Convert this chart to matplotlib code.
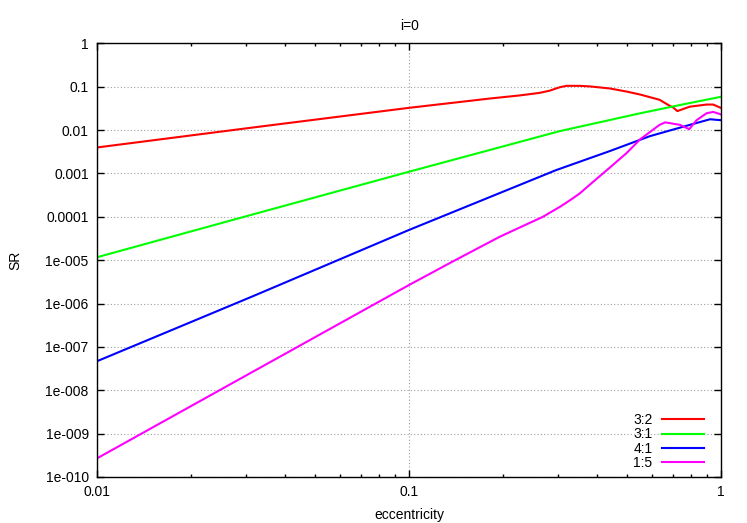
import numpy as np
import matplotlib
matplotlib.use("Agg")
import matplotlib.pyplot as plt
from matplotlib.ticker import FixedLocator, FixedFormatter, LogLocator, NullFormatter

plt.rcParams['font.family'] = ['Liberation Sans', 'DejaVu Sans']
plt.rcParams['font.size'] = 10

# values (eccentricity, SR)
e_32 = [0.01, 0.0316, 0.1, 0.182, 0.226, 0.262, 0.282, 0.304, 0.319, 0.352, 0.379,
        0.44, 0.497, 0.55, 0.634, 0.684, 0.702, 0.723, 0.792, 0.897, 0.942, 0.991, 1.0]
sr_32 = [0.00398, 0.0115, 0.0327, 0.0537, 0.0631, 0.0724, 0.0813, 0.0977, 0.105, 0.105, 0.102,
         0.0912, 0.0776, 0.0661, 0.0501, 0.0363, 0.0331, 0.0275, 0.0347, 0.0389, 0.0389, 0.0331, 0.0324]

e_31 = [0.01, 0.0316, 0.1, 0.304, 0.55, 0.75, 1.0]
sr_31 = [1.17e-5, 1.14e-4, 1.10e-3, 9.5e-3, 0.0245, 0.0389, 0.0589]

e_41 = [0.01, 0.0316, 0.1, 0.296, 0.44, 0.59, 0.684, 0.792, 0.92, 0.991, 1.0]
sr_41 = [4.68e-8, 1.48e-6, 5.0e-5, 1.20e-3, 3.3e-3, 7.24e-3, 9.8e-3, 0.0132, 0.0178, 0.0170, 0.0170]

e_15 = [0.01, 0.0316, 0.1, 0.135, 0.195, 0.268, 0.304, 0.33, 0.352, 0.386, 0.44, 0.497, 0.55,
        0.634, 0.661, 0.738, 0.789, 0.834, 0.897, 0.942, 0.991, 1.0]
sr_15 = [2.69e-10, 2.69e-8, 2.69e-6, 8.6e-6, 3.47e-5, 1e-4, 1.70e-4, 2.5e-4, 3.47e-4, 6.17e-4,
         1.38e-3, 2.95e-3, 6.17e-3, 0.0132, 0.0151, 0.0132, 0.0105, 0.0170, 0.0245, 0.0263,
         0.0234, 0.0229]

y_ticks = [1e-10, 1e-9, 1e-8, 1e-7, 1e-6, 1e-5, 1e-4, 1e-3, 1e-2, 1e-1, 1]
y_labels = ['1e-010', '1e-009', '1e-008', '1e-007', '1e-006', '1e-005',
            '0.0001', '0.001', '0.01', '0.1', '1']
x_ticks = [0.01, 0.1, 1]
x_labels = ['0.01', '0.1', '1']

fig = plt.figure(figsize=(7.47, 5.23), dpi=100)
ax = fig.add_axes([0.1299, 0.088, 0.8357, 0.829])

ax.plot(e_32, sr_32, color='#ff0000', lw=1.5, label='3:2')
ax.plot(e_31, sr_31, color='#00ff00', lw=1.5, label='3:1')
ax.plot(e_41, sr_41, color='#0000ff', lw=1.5, label='4:1')
ax.plot(e_15, sr_15, color='#ff00ff', lw=1.5, label='1:5')

ax.set_xscale('log')
ax.set_yscale('log')
ax.set_xlim(0.01, 1)
ax.set_ylim(1e-10, 1)

ax.yaxis.set_major_locator(FixedLocator(y_ticks))
ax.yaxis.set_major_formatter(FixedFormatter(y_labels))
ax.yaxis.set_minor_locator(FixedLocator([]))
ax.xaxis.set_major_locator(FixedLocator(x_ticks))
ax.xaxis.set_major_formatter(FixedFormatter(x_labels))
ax.xaxis.set_minor_locator(LogLocator(base=10, subs=np.arange(2, 10)))
ax.xaxis.set_minor_formatter(NullFormatter())

ax.tick_params(which='both', direction='in', top=True, right=True, width=1)
ax.tick_params(which='major', length=5, pad=6)
ax.tick_params(which='minor', length=2.5)

ax.grid(True, which='major', color='#a0a0a0', linestyle=(0, (1, 2)), linewidth=0.8)
for s in ax.spines.values():
    s.set_linewidth(1)

ax.set_title('i=0', fontsize=10, pad=9.5)
ax.set_xlabel('eccentricity', labelpad=6)
ax.set_ylabel('SR', labelpad=17)

ax.legend(loc='lower right', bbox_to_anchor=(0.972, 0.016), frameon=False,
          markerfirst=False, handlelength=3.0, handletextpad=0.7,
          labelspacing=0.02, borderpad=0, borderaxespad=0)

fig.savefig('out.png', dpi=100)
